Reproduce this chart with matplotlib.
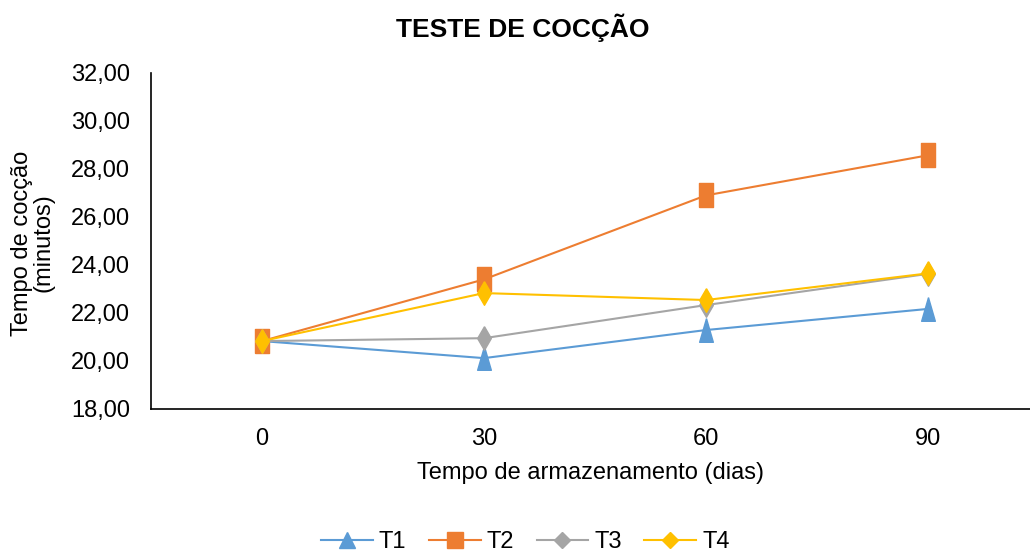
import matplotlib.pyplot as plt
from matplotlib.lines import Line2D
from matplotlib.path import Path
from matplotlib.ticker import FuncFormatter

plt.rcParams['font.family'] = ['Liberation Sans', 'DejaVu Sans']

dias = ['0', '30', '60', '90']
t1 = [20.83, 20.12, 21.29, 22.17]
t2 = [20.83, 23.40, 26.90, 28.57]
t3 = [20.83, 20.95, 22.33, 23.63]
t4 = [20.83, 22.83, 22.54, 23.65]

# the original image is squeezed sideways, so markers are tall and narrow
w = 0.29
tri = Path([(0, 0.5), (-w, -0.5), (w, -0.5), (0, 0.5)])
sq = Path([(-w, -0.5), (w, -0.5), (w, 0.5), (-w, 0.5), (-w, -0.5)])
dia = Path([(0, 0.5), (w, 0), (0, -0.5), (-w, 0), (0, 0.5)])

series = [
    ('T1', t1, '#5B9BD5', tri, '^', 11),
    ('T2', t2, '#ED7D31', sq, 's', 11),
    ('T3', t3, '#A5A5A5', dia, 'D', 8),
    ('T4', t4, '#FFC000', dia, 'D', 8),
]

fig = plt.figure(figsize=(10.3, 5.51), dpi=100)
ax = fig.add_axes([151 / 1030, 142 / 551, 879 / 1030, 336 / 551])

x = range(len(dias))
handles = []
for name, vals, color, mk, leg_mk, leg_ms in series:
    ax.plot(x, vals, color=color, marker=mk, markersize=17, linewidth=1.5)
    handles.append(Line2D([], [], color=color, marker=leg_mk,
                          markersize=leg_ms, linewidth=1.5, label=name))

ax.set_xlim(-0.5, 3.46)
ax.set_ylim(18, 32)
ax.set_xticks(list(x))
ax.set_xticklabels(dias)
ax.set_yticks(range(18, 33, 2))
ax.yaxis.set_major_formatter(FuncFormatter(lambda v, p: f'{v:.2f}'.replace('.', ',')))
ax.tick_params(axis='both', length=0, labelsize=17)
ax.tick_params(axis='y', pad=15)
ax.tick_params(axis='x', pad=14)
for s in ['top', 'right']:
    ax.spines[s].set_visible(False)
ax.spines['left'].set_linewidth(1.2)
ax.spines['bottom'].set_linewidth(1.2)

ax.set_xlabel('Tempo de armazenamento (dias)', fontsize=17, labelpad=8)
fig.text(33 / 1030, 1 - 243 / 551, 'Tempo de cocção\n(minutos)', rotation=90,
         ha='center', va='center', fontsize=17, linespacing=1.0)
fig.text(0.508, 1 - 28 / 551, 'TESTE DE COCÇÃO', ha='center', va='center',
         fontsize=19, fontweight='bold')

fig.legend(handles=handles, loc='center', bbox_to_anchor=(0.51, 1 - 542 / 551),
           ncol=4, frameon=False, fontsize=17, handlelength=2.2,
           columnspacing=0.95, handletextpad=0.25, borderpad=0)

fig.savefig('out.png', dpi=100)
